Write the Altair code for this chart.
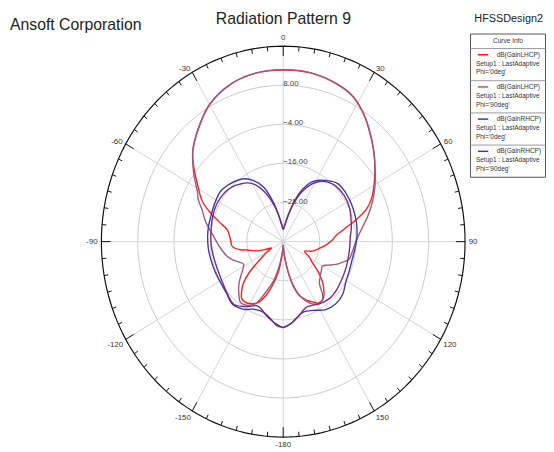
import altair as alt
import pandas as pd
import numpy as np

# ---------------- data (gain in dB vs theta in degrees) ----------------
series_names = [
    "dB(GainLHCP)|Setup1 : LastAdaptive|Phi='0deg'",
    "dB(GainLHCP)|Setup1 : LastAdaptive|Phi='90deg'",
    "dB(GainRHCP)|Setup1 : LastAdaptive|Phi='0deg'",
    "dB(GainRHCP)|Setup1 : LastAdaptive|Phi='90deg'",
]
series_colors = ["#ff1c1c", "#9d5a80", "#3b3bab", "#7a2c78"]

lhcp0_theta = [-180, -175, -170, -165, -161, -156, -151, -146, -142, -138, -134, -130, -126, -121,
               -117, -112, -108, -102, -100, -95, -88, -79, -74, -70, -65, -58, -52, -47, -39, -30,
               -20, -10, 0, 10, 20, 27, 33, 39, 47, 54, 60, 65, 70, 74, 80, 84, 88, 94, 100, 107,
               113, 118, 124, 129, 134, 139, 143, 148, 152, 157, 162, 166, 169, 172, 176, 180]
lhcp0_db = [-39.0, -36.0, -30.3, -26.0, -22.5, -19.5, -18.2, -17.6, -17.8, -19.5, -21.9, -25.5, -30.4, -33.5,
            -35.7, -33.4, -30.8, -27.7, -25.6, -23.1, -22.6, -21.2, -18.0, -14.6, -10.5, -6.6, -2.5, 0.8, 4.5, 8.6,
            11.3, 12.5, 12.7, 12.6, 11.5, 10.2, 7.8, 4.8, 0.8, -2.6, -5.4, -7.7, -10.7, -14.6, -20.2, -22.5, -23.7, -25.8, -27.9, -30.0,
            -32.4, -30.5, -28.3, -25.0, -21.9, -19.5, -18.1, -17.8, -19.0, -20.5, -22.5, -25.5, -29.2, -33.0, -36.5, -39.0]

lhcp90_theta = [-180, -174, -169, -165, -161, -157, -154, -148, -143, -137, -131, -124, -118, -114,
                -109, -104, -97, -91, -86, -81, -76, -70, -65, -62, -55, -47, -39, -30, -20, -10, 0,
                10, 20, 27, 33, 39, 47, 54, 60, 66, 70, 75, 82, 91, 98, 104, 108, 112, 116, 120, 126,
                131, 137, 141, 144, 150, 155, 159, 163, 169, 174, 180]
lhcp90_db = [-39.0, -36.0, -31.3, -27.5, -24.6, -21.0, -18.7, -17.0, -16.6, -18.5, -20.7, -23.7, -25.2, -24.4,
             -22.5, -21.0, -19.5, -18.2, -17.0, -15.3, -13.5, -11.5, -9.0, -8.0, -4.0, 0.8, 4.6, 8.6, 11.3, 12.5, 12.8,
             12.6, 11.6, 10.3, 7.9, 4.9, 0.9, -2.5, -5.0, -7.5, -9.2, -11.3, -14.0, -16.2, -17.0, -17.6, -19.5, -21.3, -23.5, -25.0, -24.5,
             -23.8, -22.5, -19.5, -18.0, -17.8, -19.2, -21.0, -23.5, -29.2, -35.0, -39.0]

rhcp0_theta = [-180, -175, -170, -163, -155, -148, -139, -130, -121, -112, -103, -95, -86, -79, -72,
               -62, -53, -45, -38, -33, -28, -21, -15, -11, -6, 0, 6, 12, 17, 22, 27, 32, 37, 45,
               54, 63, 72, 80, 86, 95, 104, 113, 121, 130, 138, 146, 155, 163, 170, 175, 180]
rhcp0_db = [-13.6, -14.2, -16.0, -17.4, -17.1, -15.5, -14.5, -15.5, -15.8, -15.7, -15.5, -15.2, -15.0, -14.9, -14.9,
            -14.5, -14.2, -15.0, -16.0, -17.0, -18.7, -22.1, -27.5, -31.2, -34.5, -36.2, -34.8, -31.5, -26.5, -22.5, -19.5, -17.8, -16.5, -14.7,
            -14.5, -14.7, -15.0, -15.3, -15.6, -16.2, -16.6, -16.4, -15.9, -14.5, -14.2, -14.8, -16.7, -17.4, -16.0, -14.5, -13.6]

rhcp90_theta = [-180, -173, -166, -160, -156, -150, -140, -130, -120, -110, -100, -92, -84, -72, -62,
                -52, -45, -39, -33, -28, -22, -16, -11, -6, 0, 6, 11, 16, 22, 28, 33, 38, 45, 55,
                65, 72, 80, 86, 94, 100, 110, 120, 130, 139, 148, 154, 159, 163, 167, 173, 180]
rhcp90_db = [-13.6, -15.0, -16.7, -18.2, -18.5, -17.0, -14.8, -15.7, -16.5, -16.7, -16.5, -16.2, -16.0, -15.5, -15.2,
             -15.5, -16.2, -17.3, -18.5, -20.2, -23.5, -27.8, -31.5, -34.6, -36.2, -34.8, -31.8, -28.0, -23.5, -20.0, -18.0, -16.7, -15.7, -15.4,
             -15.8, -16.5, -17.2, -17.8, -18.0, -18.0, -17.8, -17.5, -17.0, -16.8, -17.5, -18.2, -18.5, -17.8, -16.7, -15.0, -13.6]

ring_db = [-28, -16, -4, 8]
outer_db = 20
min_db = -40
spoke_angles = list(range(0, 360, 30))
label_angles = [0, 30, 60, 90, 120, 150, -180, -150, -120, -90, -60, -30]

# ---------------- geometry of the view ----------------
W, H = 545, 440
PXX, PXY = 3.07, 3.3            # pixels per radial unit horizontally / vertically
CX, CY = 286.8 - 8, 241.8 - 8   # pole position inside the view
XMIN, XMAX = -CX / PXX, (W - CX) / PXX
YMIN, YMAX = -(H - CY) / PXY, CY / PXY
xs = alt.Scale(domain=[XMIN, XMAX], nice=False, zero=False)
ys = alt.Scale(domain=[YMIN, YMAX], nice=False, zero=False)
FONT = "Liberation Sans"

def X(f):
    return alt.X(f, type="quantitative", scale=xs, axis=None)

def Y(f):
    return alt.Y(f, type="quantitative", scale=ys, axis=None)

def X2(f):
    return alt.X2(f)

def Y2(f):
    return alt.Y2(f)

def pxx(expr):  # pixel column -> data x
    return f"{XMIN} + ({expr}) / {PXX}"

def pxy(expr):  # pixel row -> data y
    return f"{YMAX} - ({expr}) / {PXY}"

def polar(chart, rfield="r", tfield="t", xname="px", yname="py"):
    return chart.transform_calculate(
        **{xname: f"datum.{rfield} * sin(datum.{tfield} * PI / 180)",
           yname: f"datum.{rfield} * cos(datum.{tfield} * PI / 180)"})

# ---------------- curves ----------------
rows = []
for name, th, db in zip(series_names,
                        [lhcp0_theta, lhcp90_theta, rhcp0_theta, rhcp90_theta],
                        [lhcp0_db, lhcp90_db, rhcp0_db, rhcp90_db]):
    for i, (t, d) in enumerate(zip(th, db)):
        rows.append({"series": name, "t": t, "db": d, "idx": i})
curves_df = pd.DataFrame(rows)

color_scale = alt.Scale(domain=series_names, range=series_colors)

curves = polar(
    alt.Chart(curves_df).transform_calculate(r=f"max(0, datum.db - ({min_db}))")
).mark_line(strokeWidth=1.4, interpolate="catmull-rom").encode(
    x=X("px"), y=Y("py"),
    detail=alt.Detail("series", type="nominal"),
    order=alt.Order("idx", type="quantitative"),
    color=alt.Color("series", type="nominal", scale=color_scale, legend=None),
)

# ---------------- polar grid ----------------
ring_rows = []
for d in ring_db + [outer_db]:
    for k, t in enumerate(range(0, 362, 2)):
        ring_rows.append({"ring": d, "t": t, "r": d - min_db, "k": k,
                          "outer": 1 if d == outer_db else 0})
ring_df = pd.DataFrame(ring_rows)

rings = polar(alt.Chart(ring_df).transform_filter("datum.outer == 0")).mark_line(
    color="#c9c9d1", strokeWidth=1).encode(
    x=X("px"), y=Y("py"),
    detail=alt.Detail("ring", type="nominal"),
    order=alt.Order("k", type="quantitative"))

outer = polar(alt.Chart(ring_df).transform_filter("datum.outer == 1")).mark_line(
    color="#111", strokeWidth=1.2).encode(
    x=X("px"), y=Y("py"), order=alt.Order("k", type="quantitative"))

spoke_df = pd.DataFrame({"t": spoke_angles})
spokes = alt.Chart(spoke_df).transform_calculate(
    sx2=f"{outer_db - min_db} * sin(datum.t * PI / 180)",
    sy2=f"{outer_db - min_db} * cos(datum.t * PI / 180)",
    sx0="0", sy0="0",
).mark_rule(color="#d2d2da", strokeWidth=1).encode(
    x=X("sx0"), y=Y("sy0"), x2=X2("sx2"), y2=Y2("sy2"))

tick_df = pd.DataFrame({"t": list(range(-180, 180, 5))})
ticks = alt.Chart(tick_df).transform_calculate(
    tlen="datum.t % 30 == 0 ? 3.0 : 1.4",
    ra=f"{outer_db - min_db}",
).transform_calculate(
    rb="datum.ra - datum.tlen",
    xa="datum.ra * sin(datum.t * PI / 180)", ya="datum.ra * cos(datum.t * PI / 180)",
    xb="datum.rb * sin(datum.t * PI / 180)", yb="datum.rb * cos(datum.t * PI / 180)",
).mark_rule(color="#111", strokeWidth=1).encode(
    x=X("xa"), y=Y("ya"), x2=X2("xb"), y2=Y2("yb"))

ring_lab_df = pd.DataFrame({"db": ring_db})
ring_labels = alt.Chart(ring_lab_df).transform_calculate(
    r=f"datum.db - ({min_db})", zx="0", txt="format(datum.db, '.2f')"
).mark_text(align="left", baseline="middle", dy=-1, font=FONT, fontSize=8,
            color="#444").encode(
    x=X("zx"), y=Y("r"), text=alt.Text("txt", type="nominal"))

lab_df = pd.DataFrame({"t": label_angles})
lab_groups = [
    ("datum.t == 0", "center", "bottom", 61.2),
    ("datum.t == -180", "center", "top", 61.2),
    ("datum.t > 0 && datum.t <= 90", "left", "middle", 61.2),
    ("datum.t > 90 && datum.t < 180", "left", "top", 61.0),
    ("datum.t < 0 && datum.t >= -90", "right", "middle", 61.2),
    ("datum.t < -90 && datum.t > -180", "right", "top", 61.0),
]
angle_labels = []
for cond, al, bl, rr in lab_groups:
    angle_labels.append(
        alt.Chart(lab_df).transform_filter(cond).transform_calculate(
            lx=f"{rr} * sin(datum.t * PI / 180)",
            ly=f"{rr} * cos(datum.t * PI / 180)",
            txt="'' + datum.t",
        ).mark_text(align=al, baseline=bl, font=FONT, fontSize=8, color="#333").encode(
            x=X("lx"), y=Y("ly"), text=alt.Text("txt", type="nominal")))

# ---------------- "Curve Info" box (laid out from the series lists) ----------------
LX0, LX1, LY0, STEP, HEAD = 468.5, 544.5, 23.5, 32.6, 14.7
leg_rows = []
for i, name in enumerate(series_names):
    l1, l2, l3 = name.split("|")
    leg_rows.append({"i": i, "series": name, "l1": l1, "l2": l2, "l3": l3})
leg_df = pd.DataFrame(leg_rows)

box = alt.Chart(pd.DataFrame({"a": [0]})).transform_calculate(
    bx0=pxx(LX0), bx1=pxx(LX1), by0=pxy(LY0), by1=pxy(LY0 + HEAD + 4 * STEP)
).mark_rect(fill="white", stroke="#555", strokeWidth=1).encode(
    x=X("bx0"), x2=X2("bx1"), y=Y("by0"), y2=Y2("by1"))

leg_head = alt.Chart(pd.DataFrame({"txt": ["Curve Info"]})).transform_calculate(
    hx=pxx((LX0 + LX1) / 2), hy=pxy(LY0 + 7.5)
).mark_text(font=FONT, fontSize=6.6, color="#333", baseline="middle").encode(
    x=X("hx"), y=Y("hy"), text=alt.Text("txt", type="nominal"))

seps = alt.Chart(leg_df).transform_calculate(
    sx0=pxx(LX0), sx1=pxx(LX1), sy=pxy(f"{LY0 + HEAD} + datum.i * {STEP}")
).mark_rule(color="#9a9a9a", strokeWidth=1).encode(
    x=X("sx0"), x2=X2("sx1"), y=Y("sy"))

samples = alt.Chart(leg_df).transform_calculate(
    qx0=pxx(LX0 + 7.5), qx1=pxx(LX0 + 18), qy=pxy(f"{LY0 + HEAD + 6.3} + datum.i * {STEP}")
).mark_rule(strokeWidth=1.5).encode(
    x=X("qx0"), x2=X2("qx1"), y=Y("qy"),
    color=alt.Color("series", type="nominal", scale=color_scale, legend=None))

leg_texts = []
for field, dx, dy in [("l1", 26.5, 6.3), ("l2", 5.5, 15.3), ("l3", 5.5, 24.3)]:
    leg_texts.append(
        alt.Chart(leg_df).transform_calculate(
            tx=pxx(LX0 + dx), ty=pxy(f"{LY0 + HEAD + dy} + datum.i * {STEP}")
        ).mark_text(font=FONT, fontSize=6.6, color="#333", align="left",
                    baseline="middle").encode(
            x=X("tx"), y=Y("ty"), text=alt.Text(field, type="nominal")))

# ---------------- header texts ----------------
head_df = pd.DataFrame({
    "txt": ["Ansoft Corporation", "Radiation Pattern 9", "HFSSDesign2"],
    "hx": [2, 279, 542], "hy": [14, 8.5, 8],
})
def header(k, size, align):
    return alt.Chart(head_df).transform_filter(f"datum.txt == '{head_df.txt[k]}'").transform_calculate(
        gx=pxx("datum.hx"), gy=pxy("datum.hy")
    ).mark_text(align=align, baseline="middle", font=FONT, fontSize=size, color="#222"
    ).encode(x=X("gx"), y=Y("gy"), text=alt.Text("txt", type="nominal"))

h1 = header(0, 16, "left")
h2 = header(1, 16, "center")
h3 = header(2, 11, "right")

chart = alt.layer(
    rings, spokes, outer, ticks, ring_labels, *angle_labels, curves,
    box, leg_head, seps, samples, *leg_texts, h1, h2, h3
).properties(
    width=W, height=H, padding=0,
    autosize=alt.AutoSizeParams(type="none"),
).configure_view(strokeWidth=0)

chart.save("out.html", embed_options={"renderer": "svg", "actions": False})
